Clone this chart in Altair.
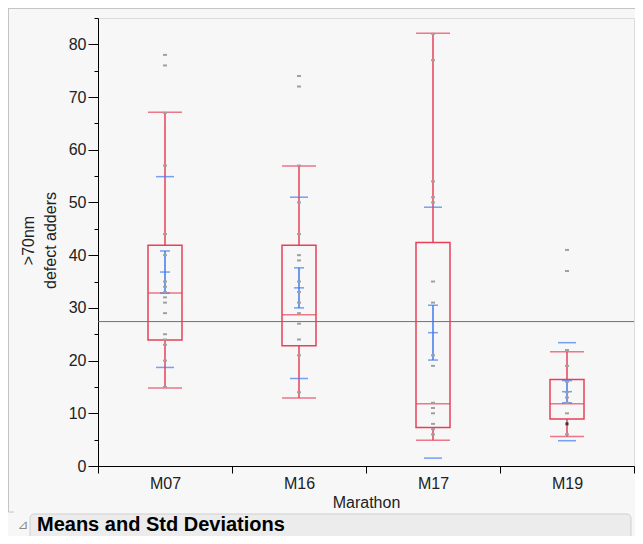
import altair as alt
import pandas as pd

categories = ["M07", "M16", "M17", "M19"]
pts_M07 = [78, 76, 67, 57, 44, 40, 35, 34, 33, 32, 31, 29, 25, 24, 23, 20, 15]
pts_M16 = [74, 72, 57, 50, 44, 40, 39, 35, 33, 31, 29, 27, 24, 21, 14]
pts_M17 = [82, 77, 54, 51, 50, 35, 31, 21, 19, 12, 11, 10, 8, 7, 6]
pts_M19 = [41, 37, 22, 19, 16, 14, 13, 12, 10, 6]
dark_cat = ["M19"]
dark_val = [8]

q1 = [23.9, 22.8, 7.3, 8.9]
median = [32.8, 28.7, 11.8, 11.8]
q3 = [41.9, 41.9, 42.4, 16.4]
whisker_lo = [14.8, 12.9, 4.9, 5.6]
whisker_hi = [67.1, 56.9, 82.1, 21.7]
means = [36.8, 33.8, 25.3, 14.1]
sd = [18.1, 17.2, 23.8, 9.3]
se = [4.0, 3.8, 5.2, 2.1]
grand_mean = 27.4

y_ticks = list(range(0, 86, 5))

RED = "#e8405a"
BLUE = "#3f7bef"
GRAY = "#a0a0a0"

pts = pd.DataFrame(
    [(c, v) for c, lst in zip(categories, [pts_M07, pts_M16, pts_M17, pts_M19]) for v in lst],
    columns=["cat", "v"],
)
dark = pd.DataFrame({"cat": dark_cat, "v": dark_val})
summ = pd.DataFrame({
    "cat": categories, "q1": q1, "median": median, "q3": q3,
    "wlo": whisker_lo, "whi": whisker_hi, "mean": means,
    "sd_lo": [m - s for m, s in zip(means, sd)], "sd_hi": [m + s for m, s in zip(means, sd)],
    "se_lo": [m - s for m, s in zip(means, se)], "se_hi": [m + s for m, s in zip(means, se)],
})
gm = pd.DataFrame({"v": [grand_mean]})
one = pd.DataFrame({"a": [0]})

x_axis = alt.Axis(title="Marathon", tickBand="extent", tickSize=7, labelPadding=2,
                  labelAngle=0, labelFontSize=16, titleFontSize=16, titlePadding=3,
                  labelColor="#222", titleColor="#222", domainColor="black", tickColor="black",
                  titleFontWeight="normal")
X = alt.X("cat:N", scale=alt.Scale(domain=categories, paddingInner=0, paddingOuter=0), axis=x_axis)

y_axis = alt.Axis(values=y_ticks, labelExpr="datum.value % 10 === 0 ? datum.label : ''",
                  tickSize={"condition": {"test": "datum.value % 10 === 0", "value": 10}, "value": 4},
                  title=[">70nm", "defect adders"], titleFontSize=16, titleFontWeight="normal",
                  titleLineHeight=22, labelFontSize=16, labelPadding=2, grid=False,
                  domainColor="black", tickColor="black", labelColor="#222", titleColor="#222",
                  titleX=-70, titleY=222, titleAngle=-90, titleAlign="center", titleBaseline="middle")
def Y(field):
    return alt.Y(field, type="quantitative", scale=alt.Scale(domain=[0, 85], nice=False, zero=False), axis=y_axis)

layers = []
layers.append(alt.Chart(gm).mark_rule(color="#707070", strokeWidth=1).encode(y=Y("v")))
layers.append(alt.Chart(summ).mark_rule(color=RED, strokeWidth=1.5).encode(x=X, y=Y("wlo"), y2="q1"))
layers.append(alt.Chart(summ).mark_rule(color=RED, strokeWidth=1.5).encode(x=X, y=Y("q3"), y2="whi"))
layers.append(alt.Chart(summ).mark_bar(filled=False, color=RED, strokeWidth=1.5, size=34).encode(x=X, y=Y("q1"), y2="q3"))
for f in ["median", "wlo", "whi"]:
    layers.append(alt.Chart(summ).mark_tick(color=RED, size=34, thickness=1.5).encode(x=X, y=Y(f)))
for f in ["sd_lo", "sd_hi"]:
    layers.append(alt.Chart(summ).mark_tick(color=BLUE, size=18, thickness=1.5).encode(x=X, y=Y(f)))
layers.append(alt.Chart(summ).mark_rule(color=BLUE, strokeWidth=1.5).encode(x=X, y=Y("se_lo"), y2="se_hi"))
for f in ["se_lo", "mean", "se_hi"]:
    layers.append(alt.Chart(summ).mark_tick(color=BLUE, size=10, thickness=1.5).encode(x=X, y=Y(f)))
layers.append(alt.Chart(pts).mark_point(shape="M-1,-0.5H1V0.5H-1Z", filled=True, size=16, color=GRAY, opacity=1).encode(x=X, y=Y("v")))
layers.append(alt.Chart(dark).mark_point(shape="M-1,-1H1V1H-1Z", filled=True, size=9, color="#333", opacity=1).encode(x=X, y=Y("v")))

# panel decorations (outline and report header)
layers.append(alt.Chart(one).mark_rule(color="#c4c4c4", strokeWidth=1).encode(
    x=alt.value(-89.5), y=alt.value(-10), y2=alt.value(494)))
layers.append(alt.Chart(one).mark_rule(color="#c4c4c4", strokeWidth=1).encode(
    x=alt.value(-89.5), x2=alt.value(-84), y=alt.value(494)))
layers.append(alt.Chart(one).mark_rule(color="#c4c4c4", strokeWidth=1).encode(
    x=alt.value(-90), x2=alt.value(540), y=alt.value(-9.5)))
layers.append(alt.Chart(one).mark_rect(fill="#ececec", stroke="#cfcfcf", strokeWidth=1, cornerRadius=4).encode(
    x=alt.value(-68), x2=alt.value(533), y=alt.value(496), y2=alt.value(540)))
layers.append(alt.Chart(one).mark_text(text="Means and Std Deviations", font="Liberation Sans", fontSize=20,
    fontWeight="bold", align="left", baseline="alphabetic", color="black").encode(x=alt.value(-61), y=alt.value(513)))
layers.append(alt.Chart(one).mark_text(text="⊿", font="DejaVu Sans", fontSize=13, align="center",
    baseline="middle", color="#888").encode(x=alt.value(-75), y=alt.value(507)))

chart = alt.layer(*layers).properties(
    width=536, height=448,
    autosize=alt.AutoSizeParams(type="none"),
    padding={"left": 90, "top": 10, "right": 1, "bottom": 70},
    background="#f7f7f7",
).configure_view(stroke="black", strokeWidth=1, fill="white").configure(font="Liberation Sans")

chart.save("out.html", embed_options={"renderer": "svg", "actions": False})
